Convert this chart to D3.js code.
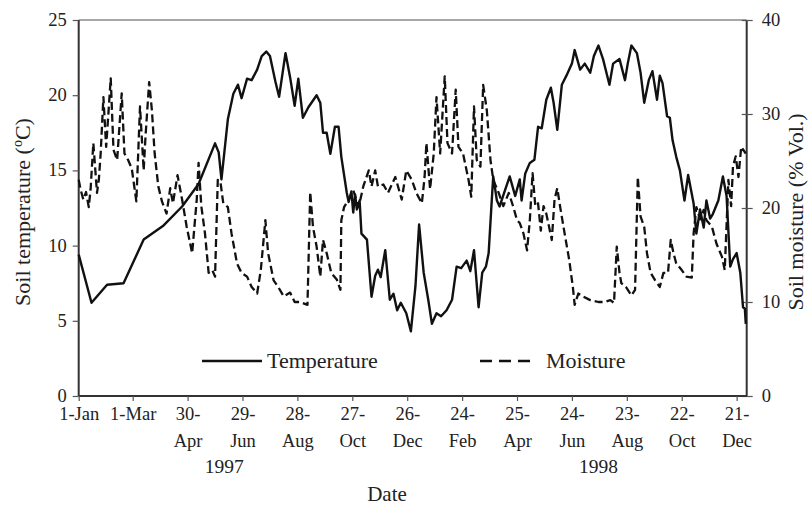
<!DOCTYPE html>
<html><head><meta charset="utf-8">
<script src="https://cdn.jsdelivr.net/npm/d3@7"></script>
<style>body{margin:0;background:#fff}svg{display:block}</style>
</head><body><svg id="c" width="812" height="508"></svg>
<script>
// ---- data ----
const tickDays = [0,59,119,179,239,299,359,419,479,539,599,659,719];
const tickLine1 = ["1-Jan","1-Mar","30-","29-","28-","27-","26-","24-","25-","24-","23-","22-","21-"];
const tickLine2 = ["","","Apr","Jun","Aug","Oct","Dec","Feb","Apr","Jun","Aug","Oct","Dec"];
const yearLabels = ["1997","1998"];
const yearDays = [159,568];
const tempTicks = [0,5,10,15,20,25];
const moistTicks = [0,10,20,30,40];

const tempDays = [0,14,31,49,71,92,113,131,149,153,156,163,169,174,178,184,189,195,200,205,209,215,219,226,231,236,240,245,251,260,264,267,271,275,280,284,287,293,295,298,300,302,304,307,309,315,320,324,327,330,335,340,344,348,352,358,363,368,372,377,382,386,391,396,402,408,413,418,424,428,432,437,441,445,448,451,453,457,460,466,471,477,482,484,488,493,498,502,506,511,516,519,523,528,533,539,542,548,553,559,563,568,573,580,584,591,597,600,604,610,614,618,623,627,632,635,638,643,646,649,653,657,662,666,672,675,679,683,686,690,693,699,704,708,712,715,719,723,726,728,729];
const tempValues = [9.4,6.2,7.4,7.5,10.4,11.3,12.6,14.1,16.8,16.2,14.4,18.4,20.1,20.7,19.8,21.1,21.0,21.7,22.6,22.9,22.6,20.9,19.9,22.8,21.2,19.3,21.1,18.5,19.2,20.0,19.5,17.5,17.5,16.1,17.9,17.9,15.9,13.5,12.9,13.6,12.2,13.4,12.4,13.0,10.8,10.4,6.6,8.0,8.4,7.9,9.7,6.4,6.8,5.7,6.2,5.5,4.3,7.3,11.4,8.2,6.4,4.8,5.5,5.3,5.7,6.4,8.6,8.5,9.0,8.3,9.7,5.9,8.2,8.6,9.5,12.6,14.6,13.0,12.6,13.7,14.6,13.3,14.4,13.0,14.8,15.5,15.7,17.9,17.8,19.7,20.5,19.5,17.7,20.7,21.3,22.1,23.0,21.7,22.1,21.5,22.6,23.3,22.4,20.7,22.1,22.4,21.0,22.1,23.3,22.8,21.5,19.5,21.0,21.6,19.7,21.3,20.8,18.6,18.5,17.0,15.9,15.0,13.0,14.7,12.8,10.8,12.4,11.2,13.0,11.8,12.1,13.0,14.6,13.3,8.6,9.1,9.5,8.2,5.9,5.8,4.8];

const moistDays = [0,2,5,8,11,13,16,20,22,24,27,30,32,35,38,42,47,50,54,58,63,67,71,73,77,80,83,87,91,96,100,103,108,113,118,124,129,131,134,138,142,146,149,152,155,158,163,167,173,178,184,189,195,199,204,207,213,218,224,231,236,242,250,253,256,260,264,267,271,276,282,286,287,290,295,300,306,311,317,320,324,327,333,338,346,353,358,364,369,375,378,380,384,388,391,395,400,403,408,412,415,420,426,429,432,435,439,442,446,450,453,459,464,470,475,479,482,486,490,493,496,499,502,505,508,511,514,517,520,523,526,531,536,540,542,546,551,559,568,575,581,585,588,591,593,598,604,608,611,614,618,621,625,630,635,639,644,647,650,653,659,664,670,672,675,679,683,686,692,697,703,706,710,713,715,718,721,724,729];
const moistValues = [23.0,22.0,20.9,21.7,20.1,22.0,26.9,21.6,23.0,25.8,31.8,26.5,29.4,33.8,26.2,25.1,32.2,25.8,25.1,24.2,20.7,30.8,24.0,27.6,33.4,30.4,25.8,22.3,20.7,19.4,22.1,20.5,23.5,20.9,18.0,15.2,20.9,24.8,20.2,17.3,13.1,13.4,12.7,23.0,22.7,20.5,20.1,17.3,14.1,13.1,12.7,11.6,10.9,13.4,18.7,15.2,12.3,11.6,10.6,11.0,10.0,10.0,9.7,21.7,18.0,15.9,12.7,16.6,15.2,13.1,12.4,11.3,18.7,20.1,20.9,21.9,20.1,22.3,24.0,22.3,24.0,22.3,22.5,21.6,23.3,20.9,24.0,23.0,21.6,20.5,23.3,26.9,22.0,25.8,31.8,25.8,34.0,26.9,25.8,32.6,26.5,25.8,23.0,21.2,30.8,25.1,24.4,33.1,30.4,25.1,23.0,21.6,20.2,21.6,20.1,18.7,18.4,17.3,15.5,18.7,23.7,20.2,20.5,17.6,20.2,19.4,18.0,16.6,20.9,22.1,20.2,17.3,14.5,11.6,9.7,10.9,10.6,10.2,10.0,10.0,10.2,9.9,15.9,13.1,12.0,11.6,10.7,11.3,23.3,19.1,18.0,15.2,13.1,12.3,11.6,13.1,13.1,16.6,15.2,14.1,13.4,12.7,12.6,17.3,20.1,18.8,19.8,18.7,18.0,16.2,14.8,13.4,23.0,20.2,24.4,25.5,23.3,26.5,25.8];

// ---- chart ----
const svg = d3.select("#c");
const FONT = "'Liberation Serif','Times New Roman',serif";
const L = 78.7, R = 746.7, T = 20, B = 396;
const start = new Date(1997,0,1);
const toDate = d => d3.timeDay.offset(start, d);
const x = d3.scaleTime().domain([start, new Date(1999,0,1)]).range([L, R]);
const yT = d3.scaleLinear().domain([0,25]).range([B, T]);
const yM = d3.scaleLinear().domain([0,40]).range([B, T]);

svg.append("line").attr("x1",L).attr("x2",R).attr("y1",T).attr("y2",T)
  .attr("stroke","#8a8a8a").attr("stroke-width",1.6);

const gl = svg.append("g").attr("transform",`translate(${L},0)`)
  .call(d3.axisLeft(yT).tickValues(tempTicks).tickSize(6).tickPadding(6).tickFormat(d3.format("d")));
const gr = svg.append("g").attr("transform",`translate(${R},0)`)
  .call(d3.axisRight(yM).tickValues(moistTicks).tickSize(6).tickPadding(9).tickFormat(d3.format("d")));
gr.selectAll(".tick line").attr("x1",-5);
const gb = svg.append("g").attr("transform",`translate(0,${B})`)
  .call(d3.axisBottom(x).tickValues(tickDays.map(toDate)).tickSize(5).tickFormat(""));

[gl,gr,gb].forEach(g=>{
  g.select(".domain").attr("stroke","#333").attr("stroke-width",2);
  g.selectAll(".tick line").attr("stroke","#555").attr("stroke-width",1.2);
  g.selectAll("text").attr("font-family",FONT).attr("font-size",18.5).attr("fill","#222");
});
gr.select(".domain").attr("d",`M0,${B}V${T}`);
gl.select(".domain").attr("d",`M0,${B}V${T}`);
gb.select(".domain").attr("d",`M${L},0H${R}`);
gl.selectAll(".tick text").attr("dy","0.30em");

gb.selectAll(".tick").each(function(d,i){
  const t = d3.select(this).append("text").attr("fill","#222")
    .attr("font-family",FONT).attr("font-size",18.5).attr("text-anchor","middle");
  t.append("tspan").attr("x",0).attr("y",24).text(tickLine1[i]);
  if (tickLine2[i]) t.append("tspan").attr("x",0).attr("y",51).text(tickLine2[i]);
});

svg.selectAll(".yr").data(yearLabels).enter().append("text")
  .attr("x",(d,i)=>x(toDate(yearDays[i]))).attr("y",473)
  .attr("text-anchor","middle").attr("font-family",FONT).attr("font-size",19.5).attr("fill","#222")
  .text(d=>d);
svg.append("text").attr("x",387).attr("y",501).attr("text-anchor","middle")
  .attr("font-family",FONT).attr("font-size",21).attr("fill","#222").text("Date");

const lt = svg.append("text").attr("transform",`translate(30,${(T+B)/2 + 4}) rotate(-90)`)
  .attr("text-anchor","middle").attr("font-family",FONT).attr("font-size",22).attr("fill","#222");
lt.append("tspan").text("Soil temperature (");
lt.append("tspan").attr("font-size",14).attr("dy",-8).text("o");
lt.append("tspan").attr("dy",8).text("C)");
svg.append("text").attr("transform",`translate(803,${(T+B)/2 + 4}) rotate(-90)`)
  .attr("text-anchor","middle").attr("font-family",FONT).attr("font-size",22).attr("fill","#222")
  .text("Soil moisture (% Vol.)");

const lineT = d3.line().x((d,i)=>x(toDate(tempDays[i]))).y(d=>yT(d));
const lineM = d3.line().x((d,i)=>x(toDate(moistDays[i]))).y(d=>yM(d));
svg.append("path").attr("d",lineM(moistValues)).attr("fill","none").attr("stroke","#111")
  .attr("stroke-width",2.3).attr("stroke-dasharray","8,4").attr("stroke-linejoin","round");
svg.append("path").attr("d",lineT(tempValues)).attr("fill","none").attr("stroke","#111")
  .attr("stroke-width",2.4).attr("stroke-linejoin","round");

const lg = svg.append("g").attr("font-family",FONT).attr("font-size",22).attr("fill","#222");
lg.append("line").attr("x1",202).attr("x2",262).attr("y1",361).attr("y2",361).attr("stroke","#111").attr("stroke-width",2.4);
lg.append("text").attr("x",267).attr("y",368).text("Temperature");
lg.append("line").attr("x1",480).attr("x2",537).attr("y1",361).attr("y2",361).attr("stroke","#111").attr("stroke-width",2.4).attr("stroke-dasharray","12,7");
lg.append("text").attr("x",546).attr("y",368).text("Moisture");
</script></body></html>
